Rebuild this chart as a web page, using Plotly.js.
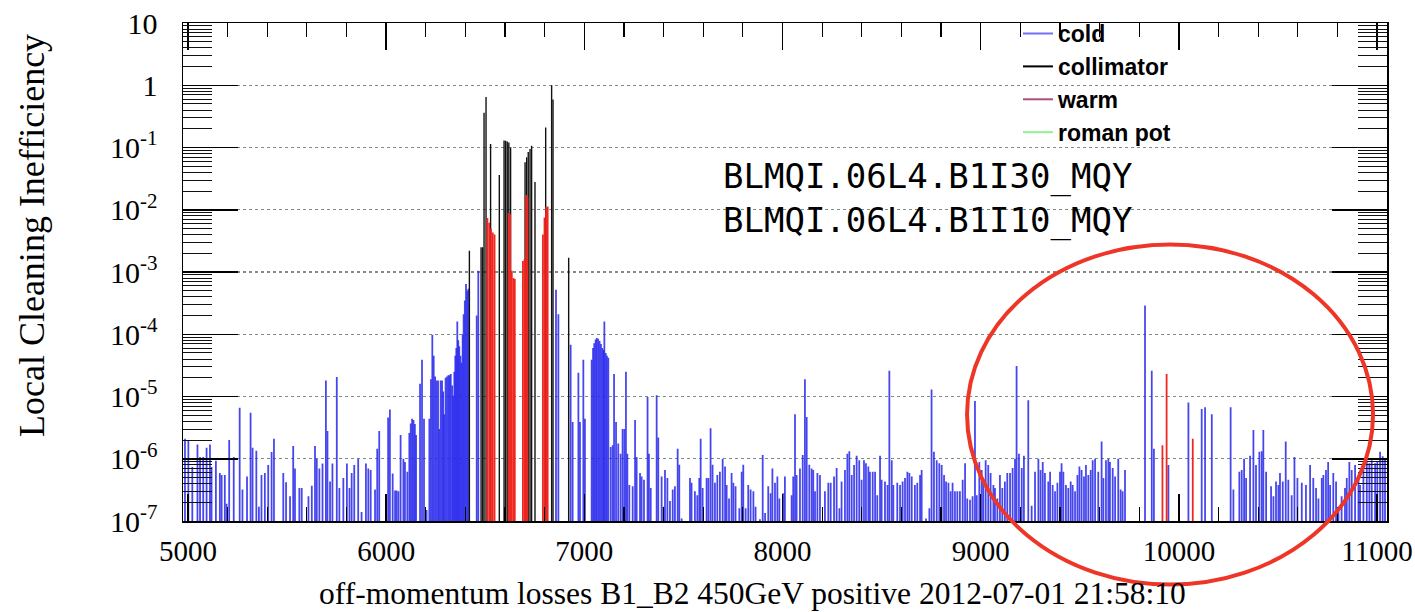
<!DOCTYPE html>
<html><head><meta charset="utf-8">
<script src="https://cdn.plot.ly/plotly-3.0.1.min.js"></script>
<style>html,body{margin:0;padding:0;background:#fff}#chart{width:1415px;height:612px}</style>
</head><body><div id="chart"></div>
<script>
// ---- data (s position in m, local cleaning inefficiency) ----
const coldS = [4985,5002,5022,5048,5061,5077,5094,5111,5119,5141,5161,5170,5186,5195,5208,5231,5261,5275,5298,5316,5326,5345,5358,5371,5388,5405,5422,5434,5481,5495,5515,5531,5540,5562,5574,5608,5625,5641,5650,5663,5679,5696,5704,5717,5729,5751,5764,5784,5802,5815,5826,5839,5859,5876,5898,5910,5922,5944,5955,5965,
6010,6019,6033,6045,6053,6062,6073,6087,6095,6107,6117,6124,6131,6138,6145,6151,6171,6181,6191,6204,6218,6226,6233,6240,6247,6255,6262,6268,6275,6282,6288,6293,6300,6307,6314,6320,6326,6333,6338,6344,6349,6354,6359,6364,6369,6375,6380,6386,6391,6397,6403,6409,6415,6457,6465,6857,6869,6931,6941,6970,
6978,6995,7003,7037,7044,7050,7057,7063,7070,7077,7084,7091,7097,7101,7108,7114,7121,7133,7143,7150,7160,7171,7183,7193,7202,7210,7217,7227,7244,7256,7264,7281,7289,7301,7319,7326,7335,7365,7373,7390,7399,7407,7419,7432,7446,7457,7471,7479,7491,7533,7541,7558,7570,7580,7587,7597,7617,7626,7637,7647,7659,7671,7684,7698,7710,7718,7730,7743,7752,7763,7782,7794,7802,7814,7827,7839,7853,7864,7886,7900,7912,7928,7940,7949,7962,7974,7984,8004,8012,8046,8054,8063,8071,8088,8102,8113,8122,8135,8147,8155,8164,8176,8189,8214,8231,
8243,8260,8273,8287,8298,8315,8327,8337,8349,8361,8374,8387,8399,8411,8421,8433,8441,8455,8467,8478,8492,8500,8517,8530,8539,8551,8559,8579,8593,8606,8618,8630,8640,8652,8668,8680,8694,8702,8724,8741,8752,8764,8778,8791,8803,8815,8825,8837,8848,8858,8870,8882,8895,8909,8921,8932,8946,8959,8971,8980,8993,9005,9013,9025,9038,9050,9064,9072,9084,9097,9109,9122,9134,9148,9161,9173,9181,9193,9207,9218,9240,9257,9274,9291,9302,9313,9324,9341,9350,9363,9375,9387,9400,9408,9417,9430,9442,9454,9464,9476,9488,9498,9509,9521,9531,9543,9555,9565,9577,9593,9610,9619,9632,9644,9652,9666,9678,9694,
9706,9716,9728,9829,9863,9874,9947,10048,10115,10132,10166,10261,10275,10305,10317,10329,10339,10359,10376,10389,10406,10418,10426,10440,10465,10477,10490,10502,10510,10524,10539,10552,10569,10583,10598,10620,10641,10662,10678,10692,10704,10721,10729,10742,10753,10763,10779,10793,10805,10821,10838,10847,10860,10872,10889,10906,10914,10931,10948,10961,10973,10990,11001,11015,11028,11040];
const coldV = [2.1e-6,2.0e-6,7.4e-7,1.7e-6,1.07e-6,1.07e-6,1.5e-6,1.7e-6,7.4e-7,9.3e-7,5.9e-7,5.5e-7,5.5e-7,1.9e-7,2.0e-6,1.07e-6,6.6e-6,3.2e-7,5.2e-7,5.5e-6,1.5e-6,1.35e-6,1.7e-7,5.5e-7,5.9e-7,7.9e-7,1.28e-6,2.1e-6,5.9e-7,4.2e-7,2.5e-7,1.6e-6,7e-7,3.4e-7,3.4e-7,2.5e-7,3.7e-7,1.6e-6,1.0e-6,7e-7,8.4e-7,1.8e-5,2.8e-6,4.3e-7,8.4e-7,2.06e-5,3.4e-7,4.9e-7,8.4e-7,3.4e-7,5.9e-7,7.9e-7,1.0e-6,1.4e-7,8.4e-7,7e-7,6.6e-7,3.2e-7,1.45e-6,2.8e-6,
4.6e-6,6.2e-6,5.8e-7,3.1e-7,3.1e-7,3e-7,2.4e-6,1.0e-6,8.9e-7,6.2e-7,2.6e-6,3.7e-6,4.4e-6,4.2e-6,3.6e-6,2.4e-6,1.6e-5,3.9e-5,4.4e-6,1.5e-7,4.4e-6,1.9e-5,9.8e-5,4.5e-5,2.1e-5,1.8e-5,1.8e-5,3e-6,1.8e-5,1.8e-5,1.2e-5,5.2e-6,2e-5,2.1e-5,2.2e-5,2.2e-5,2.3e-5,1.5e-5,1.03e-5,2.5e-5,4.5e-5,6e-5,1.6e-4,8e-5,6.4e-5,4.5e-5,3.5e-5,1e-4,2.1e-4,3.5e-4,6.4e-4,5e-4,5.4e-4,2e-4,1.05e-3,5.2e-4,2.1e-4,6.8e-5,3.9e-6,2.4e-5,
3.9e-6,3.9e-5,4.4e-6,3.9e-5,6e-5,7.2e-5,8.2e-5,8.7e-5,8.5e-5,7.8e-5,7e-5,6e-5,5.6e-5,1.6e-4,5e-5,4.5e-5,4.2e-5,1.55e-6,1.65e-6,2.3e-5,3.9e-6,1.75e-6,1.2e-6,3e-6,3e-6,2.5e-5,1.2e-6,3.8e-7,3.6e-7,4.2e-6,1.07e-6,5.9e-7,5.2e-7,4.6e-7,9.8e-6,1.2e-6,3.4e-7,1.05e-5,2.2e-6,5.2e-7,1.7e-7,6.6e-7,4.9e-7,2.1e-7,3.2e-7,3.6e-7,1.45e-6,8e-7,1.1e-7,4.9e-7,4.1e-7,3e-7,2.6e-7,4.9e-7,2.1e-6,3.4e-7,4.9e-7,4.9e-7,3.1e-6,8e-7,4.1e-7,5.5e-7,6.2e-7,1.0e-6,7.5e-7,3.8e-7,2.3e-7,5.9e-7,4.1e-7,3.6e-7,1.6e-7,6.2e-7,8e-7,1.6e-7,3.8e-7,3.2e-7,3e-7,1.7e-7,1.07e-7,1.15e-6,1.35e-7,3.6e-7,2.8e-7,7e-7,4.1e-7,5.2e-7,2.3e-7,2.8e-7,5.2e-7,2.6e-7,5.2e-7,5.2e-6,5.5e-7,7e-7,1.15e-6,1.9e-5,4.7e-6,8e-7,7e-7,6.6e-7,3e-7,5.9e-7,5.5e-7,3e-7,4.1e-7,
4.1e-7,5.2e-7,7.1e-7,1.6e-7,4.3e-7,6.6e-7,1.2e-6,1.32e-6,5.5e-7,7.9e-7,1.12e-6,9.5e-7,4.6e-7,9.5e-7,8.5e-7,7.5e-7,6.2e-7,6.2e-7,6.2e-7,2.6e-7,1.12e-6,4.6e-7,4.3e-7,3.8e-7,2.6e-5,9.5e-7,3.8e-7,4.1e-7,3.8e-7,4.3e-7,4.9e-7,6.2e-7,5.9e-7,5.2e-7,3.8e-7,4.1e-7,5.5e-7,6.6e-7,1.1e-7,1.6e-7,1.3e-5,1.29e-6,9.5e-7,8.5e-7,7.9e-7,5.5e-7,4.3e-7,4.1e-7,3e-7,4.1e-7,3e-7,3e-7,3e-7,4.6e-7,8.5e-7,2.3e-7,2.2e-7,2.5e-7,8.5e-6,2.6e-7,8.9e-7,6.6e-7,4.3e-7,9.5e-7,7.9e-7,5.9e-7,3.8e-7,3.4e-7,2.3e-7,5.5e-7,3.4e-7,4.3e-7,5.9e-7,5.9e-7,7.1e-7,1.0e-6,3.1e-5,1.2e-6,7.1e-7,1.12e-6,8.7e-6,1.75e-7,6.2e-7,1.0e-6,6.6e-7,8.9e-7,5.9e-7,4.3e-7,6.2e-7,3.8e-7,3e-7,4.1e-7,6.2e-7,8.5e-7,6.2e-7,3.8e-7,3.4e-7,4.3e-7,3.8e-7,3e-7,5.5e-7,7.5e-7,6.6e-7,5.2e-7,7.9e-7,5.5e-7,6.6e-7,9.5e-7,1.0e-6,6.2e-7,1.9e-6,4.9e-7,9.5e-7,1.0e-6,8.9e-7,7.1e-7,5.2e-7,1.0e-6,
3.2e-7,3e-7,6.6e-7,2.9e-4,2.6e-5,1.45e-6,7.9e-7,8e-6,6.3e-6,6.7e-6,5.2e-6,6.7e-6,3.2e-7,6.2e-7,6.6e-7,1.0e-6,4.9e-7,1.12e-6,2.9e-6,7.9e-7,1.29e-6,1.32e-6,2.9e-6,6.2e-7,3.6e-7,2.5e-7,4.3e-7,3.8e-7,5.9e-7,4.3e-7,1.9e-6,4.6e-7,2.6e-7,1.07e-6,4.9e-7,4.1e-7,3.8e-7,7.9e-7,4.9e-7,3.4e-7,2.3e-7,4.9e-7,5.5e-7,6.6e-7,8.9e-7,3.8e-7,5.9e-7,4.3e-7,1.6e-7,2.5e-7,3.4e-7,4.9e-7,8.9e-7,6.6e-7,7.9e-7,4.9e-7,3.8e-7,8e-7,9e-7,8.5e-7,9.5e-7,8.5e-7,9e-7,1.3e-6,1.1e-6,1.0e-6];

const collimatorS = [6420,6479,6487,6494,6504,6527,6571,6595,6603,6611,6619,6628,6701,6709,6717,6726,6734,6751,6805,6835,6842,6921];
const collimatorV = [2.2e-3,2.5e-3,2.5e-3,0.36,0.65,0.114,0.036,0.13,0.128,0.125,0.12,0.101,0.058,0.07,0.085,0.095,0.107,0.028,0.21,1.0,0.59,1.7e-3];

const warmS = [6511,6520,6529,6538,6547,6618,6626,6634,6642,6649,6690,6698,6706,6713,6791,6799,6807,6815,9917,9938,10070];
const warmV = [0.0074,0.0062,0.005,0.0043,0.004,0.0089,0.0085,1.05e-3,8e-4,7.7e-4,1.5e-3,1.6e-3,0.0173,0.016,0.004,0.0075,0.011,0.0113,1.65e-6,2.3e-5,2.1e-6];

const romanPotS = [];
const romanPotV = [];

const seriesNames = ['cold', 'collimator', 'warm', 'roman pot'];
const xTickVals = [5000, 6000, 7000, 8000, 9000, 10000, 11000];
const xTickText = ['5000', '6000', '7000', '8000', '9000', '10000', '11000'];
const yTickVals = [1e-7, 1e-6, 1e-5, 1e-4, 1e-3, 1e-2, 1e-1, 1, 10];
const yTickText = ['10<sup>-7</sup>','10<sup>-6</sup>','10<sup>-5</sup>','10<sup>-4</sup>','10<sup>-3</sup>','10<sup>-2</sup>','10<sup>-1</sup>','1','10'];
const xTitle = 'off-momentum losses B1_B2 450GeV positive 2012-07-01 21:58:10';
const yTitle = 'Local Cleaning Inefficiency';
const monitorLabels = ['BLMQI.06L4.B1I30_MQY', 'BLMQI.06L4.B1I10_MQY'];

// minor log ticks (2..9 per decade) for the axis frame
const yMinor = [];
for (let i = 0; i < yTickVals.length - 1; i++) {
  for (let k = 2; k <= 9; k++) yMinor.push(k * yTickVals[i]);
}

const serif = 'Liberation Serif, Times New Roman, serif';

const traces = [
  {type:'bar', x:coldS, y:coldV, width:9, name:seriesNames[0], showlegend:false,
   marker:{color:'rgba(40,40,236,0.86)', line:{width:0}}},
  {type:'bar', x:collimatorS, y:collimatorV, width:7, name:seriesNames[1], showlegend:false,
   marker:{color:'#111111', line:{width:0}}},
  {type:'bar', x:warmS, y:warmV, width:9, name:seriesNames[2], showlegend:false,
   marker:{color:'rgb(240,38,32)', line:{width:0}}},
  {type:'bar', x:romanPotS, y:romanPotV, width:9, name:seriesNames[3], showlegend:false,
   marker:{color:'#90ee90'}},
  // legend entries (line style, as in the original)
  {type:'scatter', mode:'lines', x:[null], y:[null], yaxis:'y2', name:seriesNames[0], line:{color:'#7272f4', width:2}},
  {type:'scatter', mode:'lines', x:[null], y:[null], yaxis:'y2', name:seriesNames[1], line:{color:'#000000', width:2}},
  {type:'scatter', mode:'lines', x:[null], y:[null], yaxis:'y2', name:seriesNames[2], line:{color:'#a8527a', width:2}},
  {type:'scatter', mode:'lines', x:[null], y:[null], yaxis:'y2', name:seriesNames[3], line:{color:'#8ef28e', width:2}}
];

const layout = {
  width:1415, height:612,
  margin:{l:183, r:28, t:15, b:91, pad:0},
  paper_bgcolor:'#ffffff', plot_bgcolor:'#ffffff',
  barmode:'overlay',
  font:{family:serif, color:'#000'},
  xaxis:{
    range:[4975, 11050], tickmode:'array', tickvals:xTickVals, ticktext:xTickText,
    ticks:'inside', ticklen:27, tickwidth:1.5, tickcolor:'#000',
    minor:{tickmode:'linear', tick0:5000, dtick:200, ticks:'inside', ticklen:14, tickwidth:1.2, tickcolor:'#000', showgrid:false},
    showline:true, linecolor:'#000', linewidth:1.5, mirror:'ticks',
    showgrid:false, zeroline:false, ticklabeloverflow:'allow',
    tickfont:{family:serif, size:29, color:'#000'}, ticklabelstandoff:4
  },
  yaxis:{
    type:'log', range:[-7, 1], tickmode:'array', tickvals:yTickVals, ticktext:yTickText,
    ticks:'inside', ticklen:55, tickwidth:1.5, tickcolor:'#000',
    showline:true, linecolor:'#000', linewidth:1.5, mirror:'ticks',
    showgrid:true, gridcolor:'#7f8f7f', griddash:'dot', gridwidth:1.3, zeroline:false,
    ticklabeloverflow:'allow',
    tickfont:{family:serif, size:30, color:'#000'}, ticklabelstandoff:18
  },
  yaxis2:{
    type:'log', range:[-7, 1], overlaying:'y', anchor:'x', side:'left',
    tickmode:'array', tickvals:yMinor, ticks:'inside', ticklen:29, tickwidth:1, tickcolor:'#111',
    mirror:'ticks', showline:false, showticklabels:false, showgrid:false, zeroline:false
  },
  legend:{x:0.6935, y:1.022, xanchor:'left', yanchor:'top', bgcolor:'rgba(0,0,0,0)', borderwidth:0,
    font:{family:'Liberation Sans, Arial, sans-serif', size:23, color:'#000', weight:'bold'},
    tracegroupgap:0, traceorder:'normal'},
  annotations:[
    {text:monitorLabels.join('<br>'), xref:'paper', yref:'paper', x:0.4468, y:0.6475,
     xanchor:'left', yanchor:'middle', align:'left', showarrow:false,
     font:{family:'DejaVu Sans Mono, monospace', size:34, color:'#000'}},
    {text:xTitle, xref:'paper', yref:'paper', x:0.4726, y:-0.1455, xanchor:'center', yanchor:'middle',
     showarrow:false, font:{family:serif, size:31.5, color:'#000'}},
    {text:yTitle, xref:'paper', yref:'paper', x:-0.1255, y:0.574, xanchor:'center', yanchor:'middle',
     textangle:-90, showarrow:false, font:{family:serif, size:36, color:'#000'}}
  ],
  shapes:[
    {type:'circle', xref:'paper', yref:'paper', x0:0.6512, x1:0.9884, y0:-0.1277, y1:0.5554,
     line:{color:'#ee3628', width:4}, fillcolor:'rgba(0,0,0,0)', layer:'above'}
  ]
};

Plotly.newPlot('chart', traces, layout, {displayModeBar:false, staticPlot:true});
</script>
</body></html>
